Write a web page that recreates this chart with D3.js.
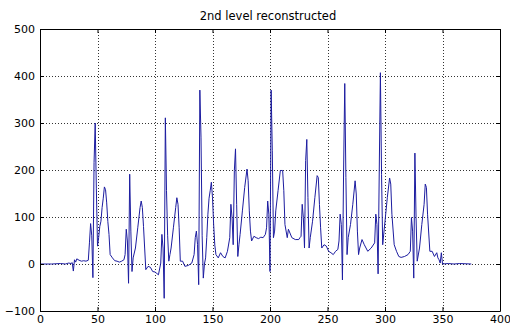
<!DOCTYPE html>
<html>
<head>
<meta charset="utf-8">
<script src="https://cdn.jsdelivr.net/npm/d3@7"></script>
<style>
  html, body { margin: 0; padding: 0; background: #fff; }
  svg { display: block; }
  text { font-family: "DejaVu Sans", "Liberation Sans", Arial, sans-serif; fill: #000; }
</style>
</head>
<body>
<svg id="chart" width="510" height="327"></svg>
<script>
// ---- data ----
const titleText = "2nd level reconstructed";
const xTicks = [0, 50, 100, 150, 200, 250, 300, 350, 400];
const yTicks = [-100, 0, 100, 200, 300, 400, 500];
const sampleX = [
  0, 10, 18, 22, 25, 27, 28, 29, 30, 31, 32, 34, 36, 38, 40, 42, 43, 44, 45, 46, 47, 48, 49, 50,
  51, 52, 53, 54, 55, 56, 57, 58, 59, 60, 61, 63, 65, 67, 69, 71, 73, 74,
  75, 76, 77, 78, 79, 80, 81, 83, 85, 87, 88, 89, 90, 91, 92, 94, 96, 98, 100, 101, 103, 105, 106,
  107, 108, 109, 110, 111, 112, 113, 114, 116, 118, 119, 120, 121, 122, 124, 126, 129, 132, 134,
  135, 136, 137, 138, 139, 140, 141, 142, 143, 144, 145, 146, 147, 148, 149, 150, 151, 152, 153, 155, 157, 159, 161, 163, 165,
  166, 167, 168, 169, 170, 171, 172, 173, 174, 176, 178, 180, 181, 182, 183, 184, 186, 188, 190, 192, 194, 196, 197,
  198, 199, 200, 201, 202, 203, 204, 205, 207, 209, 211, 212, 213, 215, 216, 219, 222, 225, 226, 227,
  228, 229, 230, 231, 232, 233, 234, 235, 237, 239, 241, 242, 243, 244, 245, 247, 249, 251, 253, 255, 257, 259, 260,
  261, 262, 263, 264, 265, 266, 267, 268, 270, 272, 274, 275, 276, 277, 278, 280, 282, 285, 288, 291,
  292, 293, 294, 295, 296, 297, 298, 300, 302, 304, 305, 306, 308, 310, 312, 314, 317, 320, 322,
  323, 324, 325, 326, 327, 328, 330, 332, 334, 335, 336, 337, 339, 341, 343, 345, 346, 347, 348, 349, 350,
  355, 360, 365, 375
];
const sampleY = [
  0, 0, 1, 0, 2, 1, 3, -15, 9, 4, 11, 8, 6, 7, 6, 8, 45, 86, 60, -29, 216, 300, 160, 38,
  56, 80, 91, 120, 140, 164, 158, 130, 90, 63, 20, 13, 7, 6, 4, 6, 9, 20,
  74, 49, -41, 191, 70, -16, 13, 34, 77, 120, 134, 120, 80, 34, -12, -5, -7, -16, -17, -19, -23, 2, 63,
  34, -73, 311, 156, 60, 6, 20, 34, 77, 120, 141, 127, 77, 6, 6, -5, -3, 2, 20,
  56, 70, 41, -44, 370, 270, 60, -30, 0, 13, 56, 106, 140, 156, 174, 141, 84, 40, 20, 13, 24, 16, 13, 27, 56,
  127, 99, 41, 199, 245, 127, 16, 41, 63, 113, 163, 202, 177, 113, 70, 49, 59, 56, 54, 57, 56, 63, 77,
  134, 106, -16, 370, 241, 56, 70, 113, 156, 199, 199, 156, 84, 56, 74, 56, 52, 52, 56, 59,
  127, 99, 34, 220, 265, 141, 34, 56, 91, 141, 188, 184, 127, 77, 34, 41, 38, 27, 24, 20, 27, 31, 49,
  106, 84, -34, 199, 384, 184, 20, 56, 84, 127, 177, 149, 70, 20, 34, 52, 41, 27, 34, 45,
  106, 84, -21, 199, 407, 190, 41, 91, 141, 183, 170, 106, 41, 27, 16, 14, 16, 20, 27,
  99, 70, -30, 236, 99, 6, 34, 84, 127, 170, 163, 106, 27, 27, 16, 24, 13, 9, 2, 24, 0,
  1, 0, 1, 0
];

// ---- chart ----
const svg = d3.select("#chart");
const x = d3.scaleLinear().domain([0, 400]).range([40, 500]);
const y = d3.scaleLinear().domain([-100, 500]).range([311, 29]);

svg.append("rect").attr("width", 510).attr("height", 327).attr("fill", "#fff");

// grid (dotted)
const grid = svg.append("g").attr("stroke", "#333").attr("stroke-width", 1)
  .attr("stroke-dasharray", "1,2").attr("shape-rendering", "crispEdges");
grid.selectAll("line.v").data(xTicks).join("line")
  .attr("x1", d => Math.round(x(d)) + 0.5).attr("x2", d => Math.round(x(d)) + 0.5)
  .attr("y1", y(500)).attr("y2", y(-100));
grid.selectAll("line.h").data(yTicks).join("line")
  .attr("y1", d => Math.round(y(d)) + 0.5).attr("y2", d => Math.round(y(d)) + 0.5)
  .attr("x1", x(0)).attr("x2", x(400));

// signal
const pts = sampleX.map((v, i) => ({ x: v, y: sampleY[i] }));
svg.append("path").datum(pts)
  .attr("fill", "none").attr("stroke", "#1c1ca0").attr("stroke-width", 1)
  .attr("stroke-linejoin", "round")
  .attr("d", d3.line().x(d => x(d.x)).y(d => y(d.y)));

// axes (ticks inward, box)
const fmt = d3.format("d");
const axB = svg.append("g").attr("transform", `translate(0,${y(-100)})`)
  .call(d3.axisBottom(x).tickValues(xTicks).tickFormat(fmt).tickSizeInner(-4).tickSizeOuter(0).tickPadding(4));
const axT = svg.append("g").attr("transform", `translate(0,${y(500)})`)
  .call(d3.axisTop(x).tickValues(xTicks).tickFormat("").tickSizeInner(-4).tickSizeOuter(0));
const axL = svg.append("g").attr("transform", `translate(${x(0)},0)`)
  .call(d3.axisLeft(y).tickValues(yTicks).tickFormat(fmt).tickSizeInner(-4).tickSizeOuter(0).tickPadding(5));
const axR = svg.append("g").attr("transform", `translate(${x(400)},0)`)
  .call(d3.axisRight(y).tickValues(yTicks).tickFormat("").tickSizeInner(-4).tickSizeOuter(0));

[axB, axT, axL, axR].forEach(g => {
  g.selectAll("path, line").attr("stroke", "#000");
  g.selectAll("text").attr("font-size", 11).attr("font-family", "DejaVu Sans, Liberation Sans, sans-serif").attr("fill", "#000");
});

// title
svg.append("text").attr("x", 268).attr("y", 20).attr("text-anchor", "middle")
  .attr("font-size", 11.5).text(titleText);
</script>
</body>
</html>
